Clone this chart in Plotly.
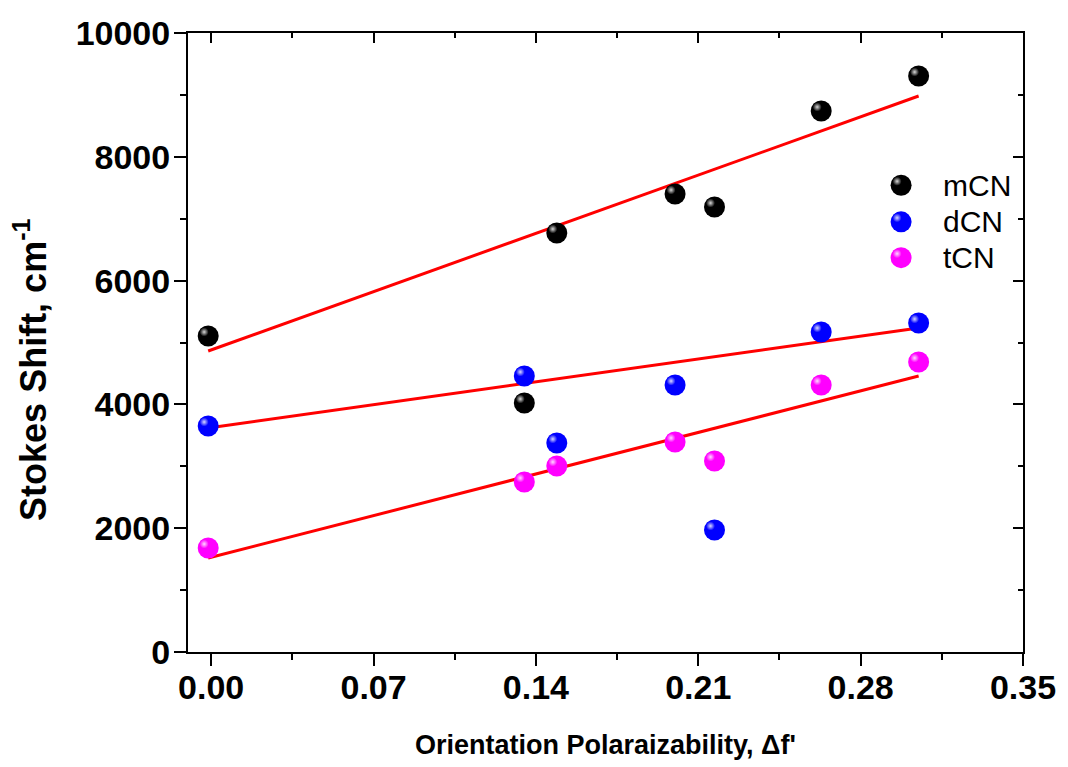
import plotly.graph_objects as go

# ---- data ----
delta_f = [-0.0013, 0.135, 0.149, 0.200, 0.217, 0.263, 0.305]
mCN = [5105, 4023, 6769, 7399, 7189, 8740, 9305]
dCN = [3651, 4459, 3376, 4313, 1971, 5170, 5315]
tCN = [1680, 2746, 3005, 3393, 3086, 4313, 4685]

fit_x = [-0.0013, 0.305]
mCN_fit = [4863, 8982]
dCN_fit = [3619, 5234]
tCN_fit = [1519, 4459]

x_ticks = [0.00, 0.07, 0.14, 0.21, 0.28, 0.35]
x_ticktext = ["0.00", "0.07", "0.14", "0.21", "0.28", "0.35"]
y_ticks = [0, 2000, 4000, 6000, 8000, 10000]
y_ticktext = ["0", "2000", "4000", "6000", "8000", "10000"]

names = ["mCN", "dCN", "tCN"]
colors = ["#000000", "#0000ff", "#ff00ff"]
highlights = ["#d8d8d8", "#d8d8ff", "#ffd8ff"]
series = [mCN, dCN, tCN]
fits = [mCN_fit, dCN_fit, tCN_fit]

X_RANGE = [-0.01, 0.35]
Y_RANGE = [0, 10000]
PLOT_W, PLOT_H = 837, 619
# highlight offset (pixels) converted to axis units
dx = 4 * (X_RANGE[1] - X_RANGE[0]) / PLOT_W
dy = 4 * (Y_RANGE[1] - Y_RANGE[0]) / PLOT_H

# legend layout (paper fractions)
LEG_X = 0.854
LEG_TEXT_X = 0.902
LEG_Y = [0.754, 0.695, 0.637]

fig = go.Figure()

for f in fits:
    fig.add_trace(go.Scatter(x=fit_x, y=f, mode="lines",
                             line=dict(color="#ff0000", width=3),
                             showlegend=False, hoverinfo="skip"))

for name, vals, col in zip(names, series, colors):
    fig.add_trace(go.Scatter(x=delta_f, y=vals, mode="markers", name=name, showlegend=False,
                             marker=dict(size=21, color=col, line=dict(width=0))))

for name, vals, col, hi in zip(names, series, colors, highlights):
    fig.add_trace(go.Scatter(x=delta_f, y=vals, mode="markers", xaxis="x2", yaxis="y2",
                             showlegend=False, hoverinfo="skip",
                             marker=dict(size=9, color=col, line=dict(width=0),
                                         gradient=dict(type="radial", color=hi))))

# legend symbols (custom, on a 0..1 overlay)
fig.add_trace(go.Scatter(x=[LEG_X] * 3, y=LEG_Y, mode="markers", xaxis="x4", yaxis="y4",
                         showlegend=False, hoverinfo="skip",
                         marker=dict(size=21, color=colors, line=dict(width=0))))
fig.add_trace(go.Scatter(x=[LEG_X] * 3, y=LEG_Y, mode="markers", xaxis="x5", yaxis="y5",
                         showlegend=False, hoverinfo="skip",
                         marker=dict(size=9, color=colors, line=dict(width=0),
                                     gradient=dict(type="radial", color=highlights))))

# dummy trace to draw the inner-tick frame axes
fig.add_trace(go.Scatter(x=[X_RANGE[0]], y=[Y_RANGE[0]], xaxis="x3", yaxis="y3",
                         mode="markers", marker=dict(opacity=0), showlegend=False, hoverinfo="skip"))

FONT = "Arial, Liberation Sans, sans-serif"
tickfont = dict(family=FONT, size=34, color="black", weight="bold")
ldx = 4 / PLOT_W
ldy = 4 / PLOT_H

annotations = [
    dict(text="Orientation Polaraizability, Δf'", xref="paper", yref="paper",
         x=0.5, y=-0.15, xanchor="center", yanchor="middle", showarrow=False,
         font=dict(family=FONT, size=27, color="black", weight="bold")),
    dict(text="Stokes Shift, cm<sup>-1</sup>", xref="paper", yref="paper",
         x=-0.189, y=0.456, xanchor="center", yanchor="middle", showarrow=False, textangle=-90,
         font=dict(family=FONT, size=36, color="black", weight="bold")),
]
for name, yy in zip(names, LEG_Y):
    annotations.append(dict(text=name, xref="paper", yref="paper", x=LEG_TEXT_X, y=yy,
                            xanchor="left", yanchor="middle", showarrow=False,
                            font=dict(family=FONT, size=30, color="black")))

fig.update_layout(
    width=1068, height=767,
    margin=dict(l=188, r=43, t=33, b=115),
    paper_bgcolor="white", plot_bgcolor="white",
    showlegend=False,
    xaxis=dict(range=X_RANGE, tickvals=x_ticks, ticktext=x_ticktext,
               showgrid=False, zeroline=False, showline=True, linecolor="black", linewidth=2,
               ticks="outside", ticklen=12, tickwidth=2, tickcolor="black",
               minor=dict(tickvals=[0.035, 0.105, 0.175, 0.245, 0.315], ticks="outside",
                          ticklen=6, tickwidth=2, tickcolor="black"),
               tickfont=tickfont, ticklabelstandoff=-8),
    yaxis=dict(range=Y_RANGE, tickvals=y_ticks, ticktext=y_ticktext,
               showgrid=False, zeroline=False, showline=True, linecolor="black", linewidth=2,
               ticks="outside", ticklen=12, tickwidth=2, tickcolor="black",
               minor=dict(tickvals=[1000, 3000, 5000, 7000, 9000], ticks="outside",
                          ticklen=6, tickwidth=2, tickcolor="black"),
               tickfont=tickfont, ticklabelstandoff=-3),
    xaxis2=dict(range=[X_RANGE[0] + dx, X_RANGE[1] + dx], overlaying="x", visible=False),
    yaxis2=dict(range=[Y_RANGE[0] - dy, Y_RANGE[1] - dy], overlaying="y", visible=False),
    xaxis4=dict(range=[0, 1], overlaying="x", visible=False),
    yaxis4=dict(range=[0, 1], overlaying="y", visible=False),
    xaxis5=dict(range=[ldx, 1 + ldx], overlaying="x", visible=False),
    yaxis5=dict(range=[-ldy, 1 - ldy], overlaying="y", visible=False),
    xaxis3=dict(range=X_RANGE, overlaying="x", side="top", tickvals=x_ticks,
                showticklabels=False, showgrid=False, zeroline=False,
                showline=True, linecolor="black", linewidth=2,
                ticks="inside", ticklen=10, tickwidth=2, tickcolor="black",
                minor=dict(tickvals=[0.035, 0.105, 0.175, 0.245, 0.315], ticks="inside",
                           ticklen=5, tickwidth=2, tickcolor="black")),
    yaxis3=dict(range=Y_RANGE, overlaying="y", side="right", tickvals=y_ticks,
                showticklabels=False, showgrid=False, zeroline=False,
                showline=True, linecolor="black", linewidth=2,
                ticks="inside", ticklen=10, tickwidth=2, tickcolor="black",
                minor=dict(tickvals=[1000, 3000, 5000, 7000, 9000], ticks="inside",
                           ticklen=5, tickwidth=2, tickcolor="black")),
    annotations=annotations,
)

fig.write_html("out.html")
